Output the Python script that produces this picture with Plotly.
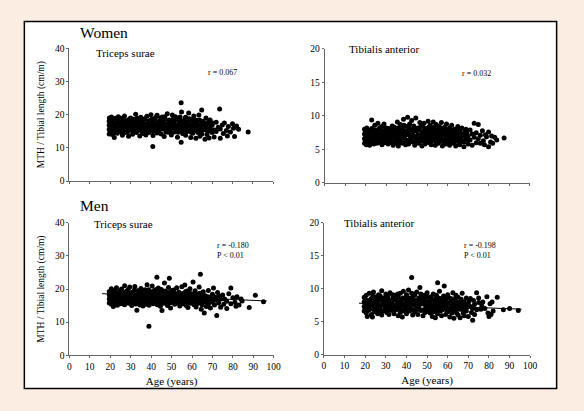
import plotly.graph_objects as go

# ---------------- data (age in years, MTH / tibial length in cm/m) ----------------
women_triceps = [
    (19.5,14.2),(19.5,15.5),(19.5,16.8),(19.5,18.0),(19.6,19.0),(20,14.8),(20,16.1),(20,17.4),(20,18.6),
    (20.3,15.3),(20.5,17.0),(20.6,19.3),(21,14.0),(21,16.3),(21,18.1),(21.5,15.0),(21.5,17.6),
    (22,13.1),(22,16.0),(22.5,18.9),(23,15.2),(23,17.3),(23.5,14.4),(24,16.6),(24,19.4),(24.5,15.6),(25,17.8),
    (25,14.9),(25.5,16.4),(26,18.5),(26,13.8),(26.5,15.8),(27,17.1),(27,19.6),(27.5,14.6),(28,16.2),(28,18.2),
    (28.5,15.2),(29,17.5),(29,13.5),(29.5,16.8),(30,19.0),(30,15.4),(30.5,17.2),
    (31,14.1),(31,16.3),(31.5,18.6),(32,15.6),(32,17.8),(32.5,20.1),(33,14.9),(33,16.9),(33.5,18.3),(34,15.3),
    (34,17.4),(34.5,13.6),(35,16.2),(35,19.2),(35.5,15.0),(36,17.7),(36,14.3),(36.5,16.5),(37,18.8),(37,15.7),
    (37.5,13.9),(38,17.0),(38,19.5),(38.5,15.4),(39,16.7),(39,14.6),(39.5,18.2),(40,16.0),(40,20.0),(40.5,15.1),
    (40.9,10.4),
    (41,17.6),(41,13.7),(41.5,16.4),(42,18.9),(42,15.2),(42.5,17.1),(43,14.5),(43,19.8),(43.5,16.3),(44,18.0),
    (44,15.6),(44.5,17.5),(45,14.2),(45,16.8),(45.5,19.3),(46,15.9),(46,17.9),(46.5,13.4),(47,16.1),(47,18.6),
    (47.5,15.0),(48,17.3),(48,20.3),(48.5,14.7),(49,16.6),(49,18.4),(49.5,15.5),(50,17.7),(50,13.9),(50.5,19.9),
    (51,16.0),(51,18.2),(51.5,14.8),(52,17.0),(52,19.4),(52.5,15.7),(53,16.9),(53,13.2),(53.5,18.7),(54,15.3),
    (54,17.6),(54.8,23.6),(54.8,11.7),(55,16.4),(55,20.8),(55.5,14.3),(56,18.1),(56,15.9),(56.5,17.3),(57,13.8),
    (57,19.2),(57.5,16.2),(58,14.9),(58,17.9),(58.5,20.5),(59,15.6),(59,17.0),(59.5,13.1),(60,18.5),(60,16.1),
    (60.5,14.4),
    (61,17.4),(61,19.6),(61.5,15.2),(62,16.7),(62,12.9),(62.5,18.3),(63,14.6),(63,17.1),(63.5,19.9),(64,15.8),
    (64,13.5),(64.9,21.4),(65,16.9),(65,14.2),(65.5,18.0),(66,15.5),(66,17.6),(66.5,12.6),(67,16.3),(67,19.0),
    (67.5,14.0),(68,17.2),(68,15.0),(68.5,13.0),(69,16.0),(69,18.4),(70,14.6),(70,16.8),
    (71,15.4),(71,13.3),(72,17.7),(72,14.9),(73,16.2),(73.7,21.7),(74,15.7),(74,12.9),(75,16.9),(75.5,14.3),
    (76,17.5),(77,15.2),(77.5,13.6),(78,16.4),(79,14.8),(80,17.3),(80.5,15.9),(81,13.4),(82,16.6),(83,15.6),
    (87.7,14.8),
]
women_triceps_core = [
    (20.8,15.9),(21.2,17.0),(22.3,14.6),(22.8,17.6),(23.3,16.2),(23.8,18.3),(24.3,15.0),(24.8,17.1),(25.3,18.9),
    (25.8,15.3),(26.3,16.9),(26.8,14.7),(27.3,18.2),(27.8,16.1),(28.3,17.3),(28.8,14.9),(29.3,18.6),(29.8,15.8),
    (30.3,16.6),(30.8,18.3),(31.3,15.1),(31.8,17.2),(32.3,16.4),(32.8,14.6),(33.3,18.9),(33.8,15.9),(34.3,16.8),
    (34.8,18.5),(35.3,17.6),(35.8,14.9),(36.3,18.4),(36.8,15.6),(37.3,17.2),(37.8,16.3),(38.3,14.8),(38.8,18.0),
    (39.3,17.3),(39.8,15.5),(40.3,18.6),(40.8,16.9),(41.3,15.0),(41.8,17.9),(42.3,16.2),(42.8,19.5),(43.3,17.4),
    (43.8,15.1),(44.3,16.9),(44.8,19.0),(45.3,15.7),(45.8,17.6),(46.3,16.4),(46.8,19.4),(47.3,14.8),(47.8,17.0),
    (48.3,15.9),(48.8,18.1),(49.3,17.2),(49.8,14.9),(50.3,16.3),(50.8,18.6),(51.3,17.2),(51.8,15.6),(52.3,18.5),
    (52.8,16.3),(53.3,14.7),(53.8,17.4),(54.3,19.3),(54.6,16.0),(55.3,18.0),(55.8,15.4),(56.3,16.9),(56.8,19.0),
    (57.3,15.0),(57.8,17.2),(58.3,15.9),(58.8,18.8),(59.3,16.4),(59.8,14.7),(60.3,17.3),(60.8,15.4),(61.3,18.3),
    (61.8,16.0),(62.3,17.6),(62.8,15.5),(63.3,16.4),(63.8,18.4),(64.3,17.0),(64.6,15.1),(65.3,17.4),(66.3,16.4),
    (67.3,15.3),(68.3,18.0),(69.3,15.2),(70.3,17.5),
]

women_tibialis = [
    (19.5,5.9),(19.5,6.6),(19.5,7.3),(19.5,8.0),(20,6.2),(20,6.9),(20,7.6),(20.4,5.7),(20.5,7.1),(20.6,8.2),
    (21,6.4),(21,7.8),(21.5,6.0),(21.5,7.0),
    (22,5.6),(22,7.5),(22.5,6.5),(23,8.1),(23,9.4),(23.5,6.1),(24,7.2),(24,5.8),(24.5,8.6),(25,6.8),(25,7.7),
    (25.5,5.9),(26,6.4),(26,8.9),(26.5,7.3),(27,6.0),(27,7.9),(27.5,6.7),(28,8.4),(28,5.7),(28.5,7.0),(29,6.3),
    (29,8.8),(29.5,7.5),(30,6.1),(30,8.2),(30.5,6.9),
    (31,7.6),(31,5.8),(31.5,6.5),(32,8.0),(32,7.1),(32.5,6.2),(33,8.5),(33,7.4),(33.5,5.6),(34,6.8),(34,8.3),
    (34.5,7.2),(35,6.0),(35,7.8),(35.5,9.1),(36,6.6),(36,5.5),(36.5,7.5),(37,8.7),(37,6.3),(37.5,7.0),(38,5.9),
    (38,8.1),(38.5,9.5),(39,6.9),(39,7.7),(39.5,5.7),(40,8.4),(40,6.4),(40.5,9.8),
    (41,7.3),(41,5.8),(41.5,8.8),(42,6.6),(42,7.9),(42.5,9.3),(43,6.1),(43,7.4),(43.5,8.5),(44,5.6),(44,6.9),
    (44.5,9.7),(45,7.8),(45,6.3),(45.5,8.2),(46,5.9),(46,7.1),(46.5,9.0),(47,6.7),(47,8.4),(47.5,5.5),(48,7.6),
    (48,6.2),(48.5,8.9),(49,7.0),(49,5.8),(49.5,8.1),(50,6.5),(50,7.7),(50.5,9.2),
    (51,6.0),(51,7.3),(51.5,8.6),(52,5.7),(52,6.8),(52.5,8.0),(53,7.5),(53,9.1),(53.5,6.3),(54,5.6),(54,7.9),
    (54.5,8.7),(55,6.6),(55,7.2),(55.5,5.9),(56,8.4),(56,6.1),(56.5,7.6),(57,9.0),(57,6.9),(57.5,5.5),(58,7.8),
    (58,6.4),(58.5,8.3),(59,7.1),(59,5.8),(59.5,8.8),(60,6.7),(60,7.5),(60.5,6.0),
    (61,8.2),(61,5.6),(61.5,7.0),(62,6.5),(62,8.6),(62.5,7.4),(63,5.9),(63,6.9),(63.5,8.0),(64,7.6),(64,5.5),
    (64.5,6.3),(65,8.4),(65,7.1),(65.5,6.0),(66,7.8),(66,5.7),(66.5,6.7),(67,8.2),(67,7.3),(68,6.1),(68,5.4),
    (68.5,7.7),(69,6.5),(69,8.0),(70,7.0),(70,5.8),
    (71,6.4),(71,7.9),(72,5.6),(72,7.3),(73,6.8),(73,8.9),(74,6.0),(74,7.5),(75,8.7),(75,6.6),(76,5.9),(76,7.1),
    (77,7.8),(77.5,6.3),(78,5.7),(78.5,7.2),(79,6.9),(80,5.4),(80,7.6),(81,6.1),(81.5,7.0),(82,5.9),(83,6.8),
    (84,6.4),(87.6,6.7),
]
women_tibialis_core = [
    (20.8,6.6),(21.2,7.4),(22.3,6.0),(22.8,7.9),(23.3,6.9),(23.8,7.6),(24.3,6.4),(24.8,7.9),(25.3,6.2),(25.8,7.3),
    (26.3,6.9),(26.8,8.2),(27.3,6.4),(27.8,7.5),(28.3,6.6),(28.8,7.8),(29.3,6.0),(29.8,7.0),(30.3,7.7),(30.8,6.4),
    (31.3,8.1),(31.8,6.9),(32.3,7.5),(32.8,6.0),(33.3,6.9),(33.8,7.9),(34.3,6.3),(34.8,7.6),(35.3,6.7),(35.8,8.2),
    (36.3,7.1),(36.8,6.0),(37.3,7.8),(37.8,6.7),(38.3,7.4),(38.8,8.6),(39.3,6.2),(39.8,7.2),(40.3,7.7),(40.8,6.1),
    (41.3,8.2),(41.8,7.0),(42.3,6.3),(42.8,8.0),(43.3,6.9),(43.8,7.8),(44.3,6.2),(44.8,8.1),(45.3,7.1),(45.8,6.6),
    (46.3,7.9),(46.8,6.3),(47.3,7.3),(47.8,8.5),(48.3,6.6),(48.8,7.9),(49.3,6.3),(49.8,7.4),(50.3,6.9),(50.8,8.3),
    (51.3,6.5),(51.8,7.7),(52.3,6.3),(52.8,7.2),(53.3,8.3),(53.8,6.9),(54.3,6.2),(54.8,7.5),(55.3,8.0),(55.8,6.4),
    (56.3,7.1),(56.8,8.1),(57.3,6.3),(57.8,7.3),(58.3,6.0),(58.8,7.6),(59.3,6.6),(59.8,7.9),(60.3,6.3),(60.8,7.2),
    (61.3,6.6),(61.8,7.7),(62.3,6.0),(62.8,7.9),(63.3,6.4),(63.8,7.2),(64.3,6.8),(64.8,8.0),(65.3,6.5),(66.3,7.3),
    (67.3,6.3),(68.3,7.0),(69.3,7.4),(70.3,6.4),
]

men_triceps = [
    (19.5,15.8),(19.5,17.0),(19.5,18.2),(19.5,19.3),(20,16.4),(20,17.7),(20,18.9),(20.5,15.4),(20.5,20.1),
    (21,16.9),(21,18.5),(21.5,14.7),(21.5,17.4),(22,19.6),(22,15.9),(22.5,18.0),(23,16.6),(23,20.4),(23.5,15.1),
    (24,17.8),(24,19.0),(24.5,16.2),(25,18.4),(25,15.6),(25.5,20.0),(26,17.2),(26,16.0),(26.5,18.9),(27,15.3),
    (27,21.0),(27.5,17.6),(28,19.4),(28,16.5),(28.5,18.1),(29,15.7),(29,17.3),(29.5,20.6),(30,16.8),(30,18.7),
    (30.5,15.0),
    (31,19.1),(31,17.0),(31.5,16.2),(32,18.3),(32,20.8),(32.5,15.5),(33,17.7),(33,13.6),(33.5,19.5),(34,16.4),
    (34,18.6),(34.5,15.2),(35,17.4),(35,20.2),(35.5,16.0),(36,18.9),(36,14.9),(36.5,17.1),(37,19.8),(37,16.6),
    (37.5,15.4),(38,18.2),(38,21.3),(38.5,16.9),(38.9,8.8),(39,17.9),(39,15.1),(39.5,19.3),(40,16.3),(40,18.7),
    (40.5,20.9),
    (41,17.2),(41,15.6),(41.5,19.6),(42,16.8),(42,18.4),(42.8,23.6),(43,15.3),(43,17.6),(43.5,20.3),(44,16.1),
    (44,18.9),(44.5,14.8),(45,17.3),(45,19.9),(45.3,13.5),(45.5,16.5),(46,18.1),(46,15.7),(46.5,21.8),(47,17.0),
    (47,19.4),(47.5,16.2),(48,18.6),(48,15.0),(48.5,20.5),(48.9,23.3),(49,17.5),(49,16.7),(49.5,14.3),(50,18.9),
    (50,16.0),
    (51,17.8),(51,19.7),(51.5,15.4),(52,16.9),(52,18.3),(52.5,20.4),(53,15.8),(53,17.4),(53.5,19.1),(54,16.3),
    (54,14.9),(54.5,18.6),(55,17.1),(55,20.7),(55.5,15.6),(56,16.6),(56,18.0),(56.5,21.2),(57,15.1),(57,17.7),
    (57.5,19.4),(58,16.2),(58,14.4),(58.5,18.8),(59,17.3),(59,20.1),(59.5,15.7),(60,16.9),(60,18.5),(60.5,22.1),
    (61,15.3),(61,17.6),(61.5,19.5),(62,16.4),(62,14.6),(62.5,18.2),(63,17.0),(63,15.8),(63.5,20.6),(64.1,24.5),
    (64,16.6),(64,18.7),(64.5,13.9),(65,17.4),(65,15.2),(65.5,19.2),(66,16.1),(66,12.8),(66.5,18.0),(67,16.8),
    (67,14.7),(67.5,17.7),(68,15.5),(68,19.6),(68.5,16.4),(69,17.3),(69,14.3),(70,18.4),(70,16.0),(70.5,20.3),
    (71,15.2),(71.5,17.5),(72.1,12.0),(72,16.6),(72.5,19.0),(73,15.8),(73.5,17.9),(74,14.5),(74,16.9),(75,18.2),
    (75.5,15.4),(76,17.0),(77,14.1),(77,16.3),(78,18.6),(79,20.3),(79,15.6),(80,17.4),(81,16.0),(81.5,14.8),
    (82,17.7),(83,15.2),(84,17.0),(84.5,16.4),(88,14.4),(91,18.1),(95,16.2),
]
men_triceps_core = [
    (20.8,17.2),(21.2,19.2),(22.3,16.5),(22.8,17.3),(23.3,18.6),(23.8,16.0),(24.3,17.2),(24.8,19.5),(25.3,16.8),
    (25.8,18.0),(26.3,15.6),(26.8,17.7),(27.3,19.0),(27.8,16.2),(28.3,17.6),(28.8,19.9),(29.3,16.4),(29.8,18.3),
    (30.3,17.4),(30.8,16.1),(31.3,18.4),(31.8,19.7),(32.3,16.9),(32.8,17.8),(33.3,16.0),(33.8,18.3),(34.3,17.3),
    (34.8,19.7),(35.3,15.8),(35.8,18.3),(36.3,16.4),(36.8,17.9),(37.3,18.7),(37.8,16.2),(38.3,17.4),(38.8,19.8),
    (39.3,16.4),(39.8,18.1),(40.3,17.2),(40.8,15.9),(41.3,18.6),(41.8,17.6),(42.3,16.0),(42.5,19.9),(43.3,18.4),
    (43.8,16.7),(44.3,17.6),(44.8,19.4),(45.3,16.0),(45.8,17.9),(46.3,16.9),(46.8,19.0),(47.3,15.8),(47.8,17.6),
    (48.3,16.6),(48.8,19.0),(49.3,15.9),(49.8,17.7),(50.3,19.6),(50.8,16.6),(51.3,17.0),(51.8,18.6),(52.3,15.9),
    (52.8,17.8),(53.3,16.6),(53.8,18.3),(54.3,17.6),(54.8,15.9),(55.3,18.6),(55.8,16.8),(56.3,17.4),(56.8,19.2),
    (57.3,16.5),(57.8,18.3),(58.3,17.1),(58.8,15.9),(59.3,18.6),(59.8,17.0),(60.3,16.1),(60.8,17.8),(61.3,16.6),
    (61.8,18.5),(62.3,17.2),(62.8,15.7),(63.3,18.6),(63.8,17.3),(64.3,15.8),(64.8,17.9),(65.3,16.5),(66.3,17.5),
    (67.3,16.0),(68.3,17.6),(69.3,16.3),(70.3,17.0),
]

men_tibialis = [
    (19.5,6.6),(19.5,7.3),(19.5,8.0),(19.5,8.7),(20,7.0),(20,7.7),(20,8.4),(20.5,6.3),(20.5,9.0),(21,5.8),
    (21,7.4),(21.5,8.2),(22,6.8),(22,9.3),(22.5,7.6),(23,6.1),(23,8.5),(23.5,5.7),(24,7.2),(24,9.5),(24.5,6.5),
    (25,8.0),(25,7.0),(25.5,8.8),(26,6.2),(26,7.8),(26.5,9.1),(27,6.9),(27,8.3),(27.5,7.4),(28,9.7),(28,6.0),
    (28.5,7.9),(29,8.6),(29,6.6),(29.5,7.2),(30,9.2),(30,8.1),(30.5,6.4),
    (31,7.7),(31,8.9),(31.5,6.1),(32,7.3),(32,9.4),(32.5,8.2),(33,6.7),(33,7.9),(33.5,8.6),(34,6.2),(34,7.5),
    (34.5,9.0),(35,8.3),(35,6.9),(35.5,7.7),(36,5.9),(36,8.8),(36.5,7.1),(37,9.3),(37,6.4),(37.5,8.1),(38,7.4),
    (38,5.7),(38.5,9.6),(39,8.5),(39,6.8),(39.5,7.8),(40,9.1),(40,6.2),(40.5,8.3),
    (41,7.2),(41,9.8),(41.5,6.6),(42,8.0),(42,7.5),(42.5,11.7),(42.5,9.3),(43,6.0),(43,8.7),(43.5,7.6),(44,9.0),
    (44,6.5),(44.5,8.2),(45,7.0),(45,9.5),(45.5,6.1),(46,8.6),(46.5,10.2),(46,7.3),(47,9.2),(47,6.7),(47.5,8.0),
    (48,7.7),(48,5.9),(48.5,9.0),(49,8.4),(49,6.4),(49.5,7.4),(50,9.4),(50,6.9),
    (51,8.1),(51,7.2),(51.5,6.3),(52,8.8),(52,7.6),(52.5,5.8),(53,9.2),(53,6.8),(53.5,8.3),(54,7.1),(54,5.6),
    (54.5,9.0),(55.1,10.9),(55,7.8),(55,6.2),(55.5,8.6),(56,7.3),(56,9.6),(56.5,6.6),(57,8.0),(57,5.9),(57.5,7.5),
    (58.3,10.4),(58,8.9),(58,6.9),(58.5,7.7),(59,6.1),(59,8.4),(59.5,7.0),(60,9.1),(60,6.5),
    (61,7.9),(61,5.7),(61.5,8.5),(62,7.2),(62,6.3),(62.5,9.4),(63,7.6),(63,5.5),(63.5,8.2),(64,6.8),(64,9.0),
    (64.5,7.3),(65,6.0),(65,8.7),(65.5,7.8),(66,5.6),(66,6.9),(66.5,8.4),(67,7.4),(67,9.3),(67.5,6.3),(68,8.0),
    (68,5.9),(68.5,7.1),(69,8.6),(69,6.6),(70,7.7),(70,5.8),
    (71,7.3),(71,8.5),(71.5,6.4),(72.1,5.2),(72,7.0),(72.5,8.2),(73,6.1),(73,7.6),(74,9.4),(74,6.8),(75,7.9),
    (75,8.6),(76,6.9),(76.5,7.4),(77,8.0),(78,7.0),(79,8.8),(79.5,6.3),(80,5.8),(80.5,7.7),(81,6.1),(81.5,8.0),
    (82,6.6),(84,8.7),(87,6.8),(90,7.0),(94.2,6.7),
]
men_tibialis_core = [
    (20.8,7.9),(21.2,6.7),(22.3,8.3),(22.8,7.0),(23.3,7.8),(23.8,8.9),(24.3,6.9),(24.8,8.4),(25.3,7.4),(25.8,6.6),
    (26.3,8.5),(26.8,7.4),(27.3,8.9),(27.8,6.6),(28.3,7.4),(28.8,8.4),(29.3,7.7),(29.8,6.9),(30.3,8.6),(30.8,7.4),
    (31.3,6.8),(31.8,8.3),(32.3,7.8),(32.8,6.9),(33.3,9.1),(33.8,7.3),(34.3,8.4),(34.8,6.8),(35.3,7.4),(35.8,9.2),
    (36.3,7.9),(36.8,6.9),(37.3,8.4),(37.8,7.5),(38.3,8.6),(38.8,6.6),(39.3,7.4),(39.8,8.6),(40.3,7.6),(40.8,6.8),
    (41.3,8.6),(41.8,7.1),(42.3,8.3),(42.8,6.8),(43.3,8.1),(43.8,9.2),(44.3,7.4),(44.8,6.8),(45.3,8.2),(45.8,7.6),
    (46.3,6.9),(46.8,8.4),(47.3,7.7),(47.8,8.8),(48.3,6.8),(48.8,8.1),(49.3,7.4),(49.8,8.8),(50.3,7.8),(50.8,6.5),
    (51.3,8.7),(51.8,7.0),(52.3,8.3),(52.8,7.2),(53.3,6.5),(53.8,7.8),(54.3,8.5),(54.8,6.8),(55.3,7.4),(55.8,8.2),
    (56.3,7.0),(56.8,8.5),(57.3,6.8),(57.8,7.8),(58.3,7.2),(58.8,8.2),(59.3,7.6),(59.8,6.6),(60.3,7.8),(60.8,8.6),
    (61.3,6.9),(61.8,7.6),(62.3,8.1),(62.8,6.7),(63.3,7.1),(63.8,8.6),(64.3,6.3),(64.8,7.9),(65.3,7.3),(66.3,8.0),
    (67.3,6.8),(68.3,7.6),(69.3,7.2),(70.3,8.2),
]

# regression lines (end points)
men_triceps_fit_age = [16.0, 96.6]
men_triceps_fit_val = [18.6, 16.4]
men_tibialis_fit_age = [17.0, 95.8]
men_tibialis_fit_val = [7.8, 6.9]

x_ticks = [0, 10, 20, 30, 40, 50, 60, 70, 80, 90, 100]

# ---------------- figure ----------------
W, H = 584, 411
FONT = "Liberation Serif"


def fx(px):
    return px / W


def fy(py):
    return 1 - py / H


fig = go.Figure()

panels = [
    (women_triceps + women_triceps_core, "x", "y"),
    (women_tibialis + women_tibialis_core, "x2", "y2"),
    (men_triceps + men_triceps_core, "x3", "y3"),
    (men_tibialis + men_tibialis_core, "x4", "y4"),
]
for data, xa, ya in panels:
    fig.add_trace(go.Scatter(
        x=[p[0] for p in data], y=[p[1] for p in data],
        mode="markers", xaxis=xa, yaxis=ya,
        marker=dict(color="black", size=5, line=dict(width=0)),
        showlegend=False, hoverinfo="skip",
    ))

fig.add_trace(go.Scatter(x=men_triceps_fit_age, y=men_triceps_fit_val, mode="lines",
                         xaxis="x3", yaxis="y3", line=dict(color="black", width=1),
                         showlegend=False, hoverinfo="skip"))
fig.add_trace(go.Scatter(x=men_tibialis_fit_age, y=men_tibialis_fit_val, mode="lines",
                         xaxis="x4", yaxis="y4", line=dict(color="black", width=1),
                         showlegend=False, hoverinfo="skip"))

tick_font = dict(family=FONT, size=9.5, color="black")


def xaxis(dom, labels, anchor):
    d = dict(domain=dom, range=[0, 100], tickvals=x_ticks, ticks="outside", ticklen=2,
             tickcolor="#666", tickwidth=1, showline=True, linecolor="#666", linewidth=1,
             showgrid=False, zeroline=False, showticklabels=labels, tickfont=tick_font,
             anchor=anchor, fixedrange=True)
    if labels:
        d["title"] = dict(text="Age (years)", font=dict(family=FONT, size=11, color="black"), standoff=6)
    return d


def yaxis(dom, top, dt, anchor, title):
    d = dict(domain=dom, range=[0, top], dtick=dt, ticks="outside", ticklen=2,
             tickcolor="#666", tickwidth=1, showline=True, linecolor="#666", linewidth=1,
             showgrid=False, zeroline=False, tickfont=tick_font, anchor=anchor, fixedrange=True)
    if title:
        d["title"] = dict(text="MTH / Tibial length (cm/m)",
                          font=dict(family=FONT, size=9.5, color="black"), standoff=8)
    return d


fig.update_layout(
    width=W, height=H,
    autosize=False,
    margin=dict(l=0, r=0, t=0, b=0),
    paper_bgcolor="#FCEDE3",
    plot_bgcolor="rgba(0,0,0,0)",
    font=dict(family=FONT, color="black"),
    xaxis=xaxis([fx(68.5), fx(275.5)], False, "y"),
    yaxis=yaxis([fy(180.5), fy(44.3)], 40, 10, "x", True),
    xaxis2=xaxis([fx(327.6), fx(535.8)], False, "y2"),
    yaxis2=yaxis([fy(182.3), fy(45.0)], 20, 5, "x2", False),
    xaxis3=xaxis([fx(68.5), fx(276.0)], True, "y3"),
    yaxis3=yaxis([fy(359.0), fy(223.3)], 40, 10, "x3", True),
    xaxis4=xaxis([fx(327.0), fx(536.5)], True, "y4"),
    yaxis4=yaxis([fy(358.3), fy(223.3)], 20, 5, "x4", False),
)

# white framed panel behind the charts
fig.add_shape(type="rect", xref="paper", yref="paper",
              x0=fx(22.7), x1=fx(563.3), y0=fy(393), y1=fy(17),
              fillcolor="white", line=dict(color="black", width=1.5), layer="below")


def note(text, px, py, size, anchor="left"):
    fig.add_annotation(text=text, xref="paper", yref="paper", x=fx(px), y=fy(py),
                       xanchor=anchor, yanchor="middle", showarrow=False,
                       font=dict(family=FONT, size=size, color="black"), align="left")


note("Women", 77, 28.5, 15.5)
note("Men", 77, 206, 15.5)
note("Triceps surae", 93, 49, 11)
note("Tibialis anterior", 350, 45.5, 11)
note("Triceps surae", 91.5, 224.5, 11)
note("Tibialis anterior", 345, 223.5, 11)
note("r = 0.067", 207, 69, 8)
note("r = 0.032", 465, 70, 8)
note("r = -0.180<br>P < 0.01", 216.5, 251.5, 8)
note("r = -0.198<br>P < 0.01", 467.5, 251.5, 8)

fig.write_html(
    "out.html",
    config={"displayModeBar": False, "responsive": False, "staticPlot": True},
    post_script=(
        "document.documentElement.style.overflow='hidden';"
        "document.body.style.overflow='hidden';"
        "document.body.style.margin='0';"
        "document.body.style.background='#FCEDE3';"
    ),
)
